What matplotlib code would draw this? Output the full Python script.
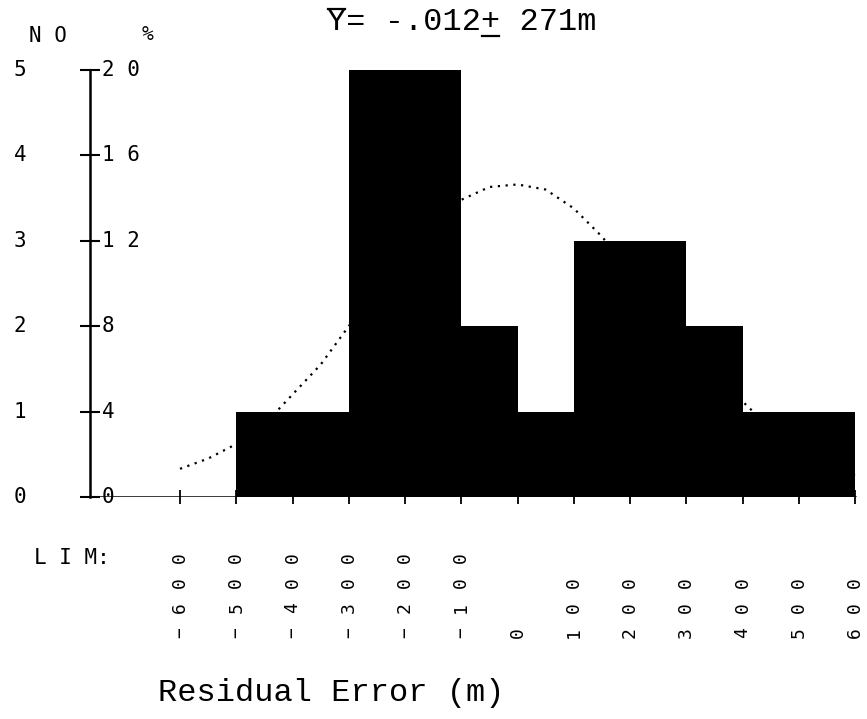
import numpy as np
import matplotlib
matplotlib.use("Agg")
import matplotlib.pyplot as plt
from matplotlib.lines import Line2D

# histogram of residual errors, bins of 100 m
bin_edges = [-600, -500, -400, -300, -200, -100, 0, 100, 200, 300, 400, 500, 600]
counts = [0, 1, 1, 5, 5, 2, 1, 3, 3, 2, 1, 1]
lim_labels = ["-600", "-500", "-400", "-300", "-200", "-100", "0",
              "100", "200", "300", "400", "500", "600"]

# dotted normal curve (count units)
curve_x = [-600, -550, -500, -450, -400, -350, -300, -250, -200, -150, -100,
           -50, 0, 50, 100, 150, 200, 250, 300, 350, 400, 450, 500, 550, 600]
curve_y = [0.33, 0.45, 0.62, 0.85, 1.2, 1.55, 2.0, 2.45, 2.9, 3.25, 3.48,
           3.63, 3.66, 3.6, 3.38, 3.05, 2.65, 2.2, 1.75, 1.4, 1.12, 0.8, 0.55, 0.38, 0.25]

no_ticks = [0, 1, 2, 3, 4, 5]
pct_ticks = [0, 4, 8, 12, 16, 20]
title_txt = "Y= -.012+ 271m"
xlabel_txt = "Residual Error (m)"

W, H = 867, 719
fig = plt.figure(figsize=(W / 100, H / 100), dpi=100)
fig.patch.set_facecolor("white")

ax_left, ax_y0, ax_y5 = 90, 497, 70
px_per_unit = 675 / 1200.0
xmin = -600 - (180 - ax_left) / px_per_unit
xmax = 600 + (W - 855) / px_per_unit
ax = fig.add_axes([ax_left / W, (H - ax_y0) / H, 1 - ax_left / W, (ax_y0 - ax_y5) / H])
ax.set_xlim(xmin, xmax)
ax.set_ylim(0, 5)

# curve first, bars painted over it
ax.plot(curve_x, curve_y, color="black", linestyle=(0, (1, 2.5)), linewidth=1.6, zorder=1)
widths = np.diff(bin_edges)
ax.bar(bin_edges[:-1], counts, width=widths, align="edge", color="black",
       edgecolor="black", linewidth=0, zorder=2)

for s in ["top", "right", "bottom"]:
    ax.spines[s].set_visible(False)
ax.spines["left"].set_linewidth(1.8)
ax.axhline(0, xmin=0, xmax=(600 - xmin) / (xmax - xmin), color="black", linewidth=1.8, zorder=3)

ax.set_xticks(bin_edges)
ax.set_xticklabels([])
ax.tick_params(axis="x", direction="inout", length=10, width=1.3, bottom=True)
ax.set_yticks(no_ticks)
ax.set_yticklabels([])
ax.tick_params(axis="y", direction="inout", length=14, width=1.5)

mono = "DejaVu Sans Mono"

def to_fig(px, py):
    return px / W, 1 - py / H

# count labels at far left, percent labels right of the axis
for n, p in zip(no_ticks, pct_ticks):
    py = ax_y0 - n * (ax_y0 - ax_y5) / 5.0
    fx, fy = to_fig(20, py)
    fig.text(fx, fy, str(n), family=mono, fontsize=15, ha="center", va="center")
    fx, fy = to_fig(102, py)
    fig.text(fx, fy, " ".join(str(p)), family=mono, fontsize=15, ha="left", va="center")

fx, fy = to_fig(48, 36)
fig.text(fx, fy, "N O", family=mono, fontsize=15, ha="center", va="center")
fx, fy = to_fig(148, 34)
fig.text(fx, fy, "%", family=mono, fontsize=14, ha="center", va="center")

# LIM: row, printed vertically one character per line
row_y = [558, 583, 608, 633]
fx, fy = to_fig(110, row_y[0])
fig.text(fx, fy, "L I M:", family=mono, fontsize=15, ha="right", va="center")
for edge, lab in zip(bin_edges, lim_labels):
    px = 180 + (edge + 600) * px_per_unit
    for k, ch in enumerate(lab):
        fx, fy = to_fig(px, row_y[3 - k])
        fig.text(fx, fy, ch.replace("-", "\u2212"), family=mono, fontsize=13,
                 rotation=90, ha="center", va="center")

serif_mono = "Liberation Mono"
fx, fy = to_fig(158, 693)
fig.text(fx, fy, xlabel_txt, family=serif_mono, fontsize=23, ha="left", va="center")

fx, fy = to_fig(327, 22)
t = fig.text(fx, fy, title_txt, family=serif_mono, fontsize=23, ha="left", va="center")

# overline on Y and underline under +
fig.canvas.draw()
bb = t.get_window_extent()
cw = bb.width / len(title_txt)
x0 = bb.x0
ytop = bb.y1 - 2
ybot = bb.y0 + 1
for idx, yy in [(0, ytop), (8, ybot)]:
    xa = (x0 + idx * cw + 1) / W
    xb = (x0 + (idx + 1) * cw - 1) / W
    fig.add_artist(Line2D([xa, xb], [yy / H, yy / H], color="black", linewidth=1.6))

fig.savefig("out.png", dpi=100, facecolor="white")
